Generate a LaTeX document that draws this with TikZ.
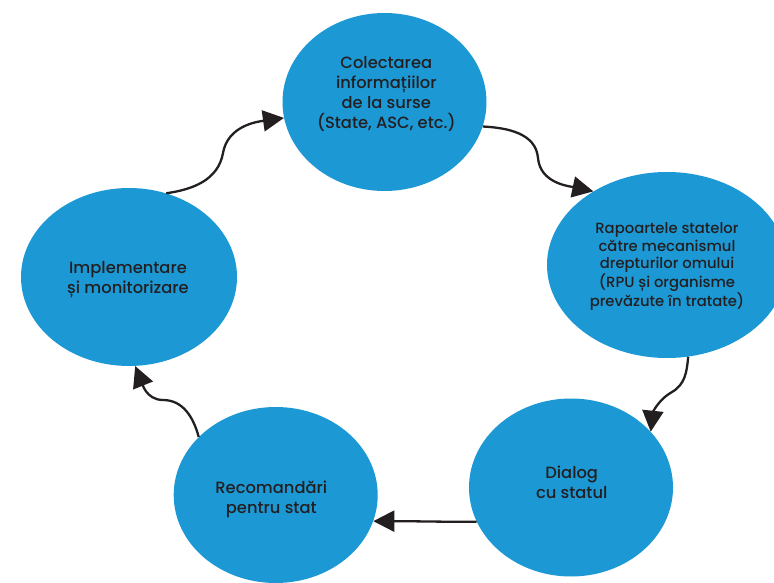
\documentclass[tikz,border=0pt]{standalone}
\usepackage{fontspec}
\setmainfont{Poppins Medium}
\usepackage{xcolor}
\usetikzlibrary{shapes.geometric,arrows.meta}
\definecolor{circblue}{HTML}{1C98D5}
\definecolor{ink}{HTML}{231F20}

\begin{document}
\begin{tikzpicture}[x=1pt,y=1pt,
	stage/.style={ellipse,fill=circblue,inner sep=0pt,minimum width=204pt,minimum height=178pt},
	txt/.style={align=center,text=ink,font=\fontsize{16.3}{20}\selectfont},
	smalltxt/.style={align=center,text=ink,font=\fontsize{14.8}{17.3}\selectfont},
	flow/.style={draw=ink,line width=2.3pt,-{Triangle[length=21pt,width=21pt]}}]
		\useasboundingbox (0,0) rectangle (774,582);
		\node[stage] (collect) at (384.5,480) {};
		\node[stage,minimum width=240pt,minimum height=186pt] (report) at (667,317) {};
		\node[stage] (dialog) at (571,94.5) {};
		\node[stage,minimum height=176pt] (recom) at (275.7,87) {};
		\node[stage,minimum width=216pt] (impl) at (129,305) {};
		\node[txt] (collect-t) at (386.3,488) {Colectarea\\informațiilor\\de la surse\\(State, ASC, etc.)};
		\node[smalltxt] (report-t) at (667,315.5) {Rapoartele statelor\\către mecanismul\\drepturilor omului\\(RPU și organisme\\prevăzute în tratate)};
		\node[txt] (dialog-t) at (571.7,100) {Dialog\\cu statul};
		\node[txt] (recom-t) at (271.3,82.4) {Recomandări\\pentru stat};
		\node[txt] (impl-t) at (128,302.5) {Implementare\\și monitorizare};
		\draw[flow] (impl.66) to[out=8,in=-100] (223,429) to[out=80,in=188] (collect.189);
		\draw[flow] (collect.346) to[out=-3,in=95] (538,424) to[out=-85,in=168] (report.135);
		\draw[flow] (report.283) to[out=-95,in=30] (672,190) to[out=210,in=84] (dialog.35);
		\draw[flow] (dialog.200) to[out=180,in=0] (recom.345);
		\draw[flow] (recom.143) to[out=105,in=0] (163,182) to[out=180,in=292] (impl.274);
	\end{tikzpicture}
\end{document}
